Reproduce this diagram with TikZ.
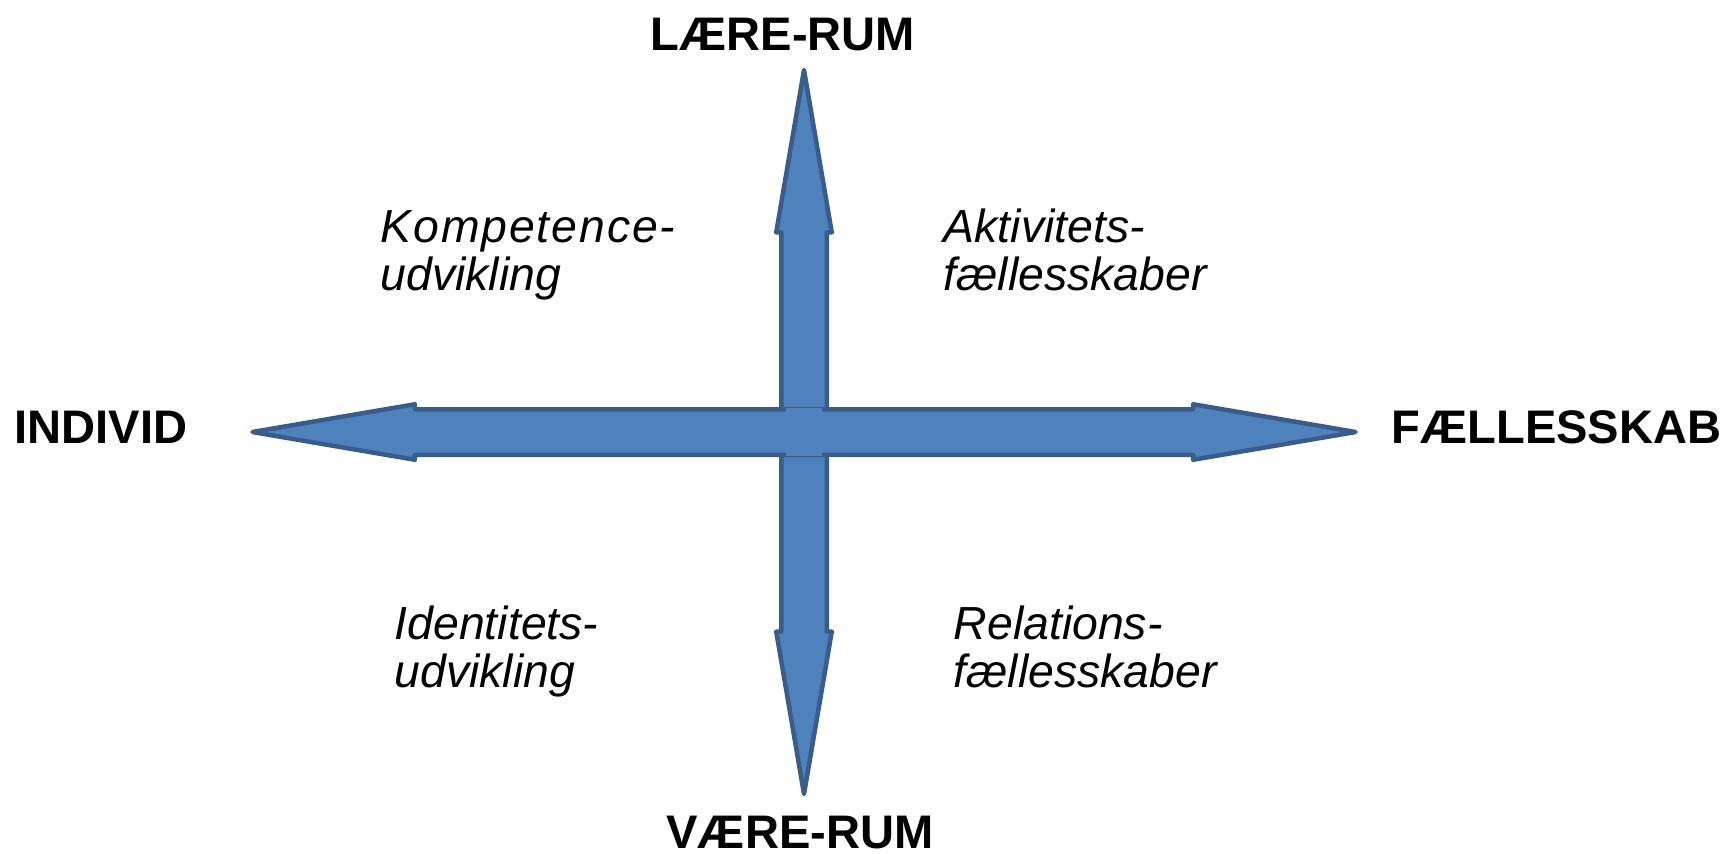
\documentclass[tikz,border=0pt]{standalone}
\usepackage{fontspec}
\setmainfont{Liberation Sans}
\usetikzlibrary{shapes.arrows,positioning}
\definecolor{crossfill}{HTML}{4F81BD}
\definecolor{crossline}{HTML}{385D8A}

\begin{document}
\begin{tikzpicture}[
    axis/.style={double arrow, draw=crossline, fill=crossfill, line width=0.045cm,
      line join=round, double arrow tip angle=19.4, double arrow head extend=0.05cm,
      double arrow head indent=0pt, inner xsep=0pt, inner ysep=0.205cm,
      minimum width=0.51cm},
    pole/.style={font=\fontsize{13.4}{16}\selectfont\bfseries, inner sep=0pt},
    field/.style={font=\fontsize{13.2}{13.4}\selectfont\itshape, align=left,
      inner sep=0pt, anchor=base west}
  ]
    \useasboundingbox (0,0) rectangle (17.27,8.53);
    \coordinate (o) at (8.04,4.21);
    \node[axis, minimum height=7.24cm, rotate=90] (vert) at (o) {};
    \node[axis, minimum height=11.03cm] (horiz) at (o) {};
    % hide the outline where the two shafts cross
    \fill[crossfill] ([shift={(-0.1825,-0.24)}]o) rectangle ([shift={(0.1825,0.24)}]o);

    \node[pole, anchor=base west] (indiv) at (0.14,4.10) {INDIVID};
    \node[pole, anchor=base west] (faelles) at (13.91,4.10) {FÆLLESSKAB};
    \node[pole, anchor=base] (laere) at (7.83,8.03) {LÆRE-RUM};
    \node[pole, anchor=base] (vaere) at (8.00,0.05) {VÆRE-RUM};

    % base anchor sits on the last line
    \node[field] (komp) at (3.80,5.63) {{\addfontfeature{LetterSpace=4}Kompetence-}\\udvikling};
    \node[field] (akt) at (9.43,5.63) {Aktivitets-\\fællesskaber};
    \node[field] (ident) at (3.94,1.66) {Identitets-\\udvikling};
    \node[field] (rel) at (9.53,1.66) {Relations-\\fællesskaber};
  \end{tikzpicture}
\end{document}
